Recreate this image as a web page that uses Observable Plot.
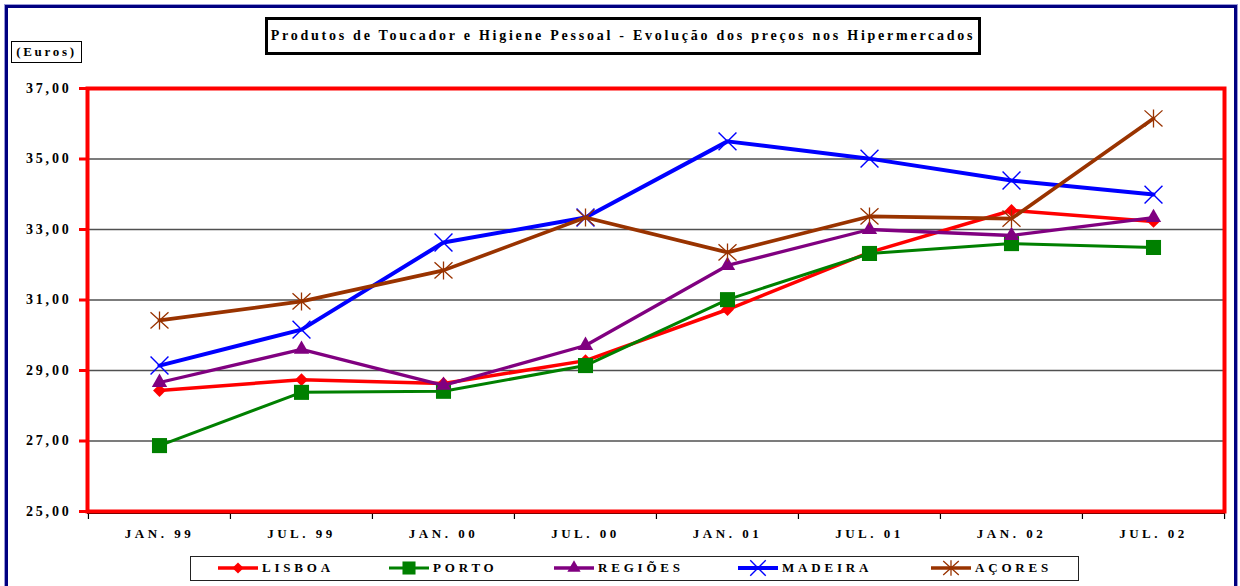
<!DOCTYPE html>
<html>
<head>
<meta charset="utf-8">
<script src="https://cdn.jsdelivr.net/npm/d3@7"></script>
<script src="https://cdn.jsdelivr.net/npm/@observablehq/plot@0.6"></script>
<style>
  html, body { margin: 0; padding: 0; background: #fff; }
  #wrap { position: relative; width: 1240px; height: 586px; overflow: hidden; background: #fff;
          font-family: "Liberation Serif", "Times New Roman", serif; font-weight: bold; }
  #outer { position: absolute; left: 5px; top: 5px; width: 1226px; height: 700px;
           border: 3px solid #000080; box-shadow: 0 0 0 1px #9a9ad8; }
  #chart { position: absolute; left: 0; top: 0; }
  #chart g[aria-label="y-axis tick label"] text { letter-spacing: 2.8px; }
  #chart g[aria-label="x-axis tick label"] text { letter-spacing: 3.5px; }
  #title { position: absolute; left: 265px; top: 17px; width: 716px; height: 38px; box-sizing: border-box;
           border: 3.5px solid #000; background: #fff; font-size: 14px; letter-spacing: 2.75px;
           display: flex; align-items: center; justify-content: center; white-space: nowrap; }
  #euros { position: absolute; left: 11px; top: 41px; width: 71px; height: 22px; box-sizing: border-box;
           border: 1.5px solid #000; background: #fff; font-size: 13px; letter-spacing: 2.7px;
           display: flex; align-items: center; justify-content: center; }
  #legend { position: absolute; left: 190px; top: 556px; width: 889px; height: 25px; box-sizing: border-box;
            border: 1.5px solid #222; background: #fff; }
  .li { position: absolute; top: 0; height: 22px; display: flex; align-items: center; }
  .li span { font-size: 13px; letter-spacing: 3.8px; margin-left: 4px; }
</style>
</head>
<body>
<div id="wrap">
  <div id="outer"></div>
  <div id="chart"></div>
  <div id="title">Produtos de Toucador e Higiene Pessoal - Evolução dos preços nos Hipermercados</div>
  <div id="euros">(Euros)</div>
  <div id="legend"></div>
</div>
<script>
// ---- data ----
const periods = ["JAN. 99", "JUL. 99", "JAN. 00", "JUL. 00", "JAN. 01", "JUL. 01", "JAN. 02", "JUL. 02"];
const seriesNames = ["LISBOA", "PORTO", "REGIÕES", "MADEIRA", "AÇORES"];
const lisboa  = [28.43, 28.74, 28.63, 29.28, 30.73, 32.35, 33.54, 33.23];
const porto   = [26.87, 28.38, 28.41, 29.14, 31.01, 32.32, 32.60, 32.49];
const regioes = [28.66, 29.60, 28.58, 29.71, 31.98, 33.00, 32.83, 33.34];
const madeira = [29.14, 30.16, 32.63, 33.34, 35.50, 35.01, 34.39, 33.99];
const acores  = [30.42, 30.96, 31.84, 33.34, 32.35, 33.37, 33.31, 36.15];
const yTicks = [25, 27, 29, 31, 33, 35, 37];
const gridLines = [27, 29, 31, 33, 35];

// Excel-like star marker: X plus vertical bar
const star = {
  draw(ctx, size) {
    const r = Math.sqrt(size / Math.PI);
    ctx.moveTo(-r, -r * 0.9); ctx.lineTo(r, r * 0.9);
    ctx.moveTo(-r, r * 0.9); ctx.lineTo(r, -r * 0.9);
    ctx.moveTo(0, -r); ctx.lineTo(0, r);
  }
};

const styles = [
  {color: "#ff0000", width: 3.5, symbol: d3.symbolDiamond2, r: 5.8, filled: true},
  {color: "#008000", width: 3.0, symbol: d3.symbolSquare, r: 8.5, filled: true},
  {color: "#800080", width: 3.3, symbol: d3.symbolTriangle, r: 5.7, filled: true},
  {color: "#0000ff", width: 4.0, symbol: d3.symbolTimes, r: 8.2, filled: false, sw: 1.4},
  {color: "#993300", width: 3.7, symbol: star, r: 9, filled: false, sw: 1.3}
];
const values = [lisboa, porto, regioes, madeira, acores];

const rows = seriesNames.flatMap((s, k) => periods.map((p, i) => ({series: s, period: p, value: values[k][i]})));

const W = 1240, H = 586, mL = 87, mR = 16, mT = 88, mB = 75;
const half = (W - mL - mR) / periods.length / 2;

const seriesMarks = seriesNames.flatMap((s, k) => {
  const st = styles[k];
  const f = d => d.series === s;
  return [
    Plot.line(rows, {filter: f, x: "period", y: "value", stroke: st.color, strokeWidth: st.width, strokeLinejoin: "round"}),
    Plot.dot(rows, st.filled
      ? {filter: f, x: "period", y: "value", symbol: () => st.symbol, r: st.r, fill: st.color, stroke: "none"}
      : {filter: f, x: "period", y: "value", symbol: () => st.symbol, r: st.r, fill: "none", stroke: st.color, strokeWidth: st.sw})
  ];
});

const chart = Plot.plot({
  width: W, height: H,
  marginLeft: mL, marginRight: mR, marginTop: mT, marginBottom: mB,
  style: {fontFamily: "'Liberation Serif', 'Times New Roman', serif", fontWeight: "bold", color: "#000", background: "transparent", overflow: "visible"},
  x: {type: "point", domain: periods, padding: 0.5, label: null},
  y: {domain: [25, 37], label: null},
  symbol: {type: "identity"},
  marks: [
    Plot.ruleY(gridLines, {stroke: "#505050", strokeWidth: 1.5}),
    Plot.ruleY([25], {stroke: "#000", strokeWidth: 1.2, dy: 2}),
    Plot.axisX({tickSize: 6, tickFormat: () => "", label: null, dx: -half, stroke: "#000", strokeWidth: 1.2, dy: 2}),
    Plot.axisX([periods[periods.length - 1]], {tickSize: 6, tickFormat: () => "", label: null, dx: half, stroke: "#000", strokeWidth: 1.2, dy: 2}),
    Plot.axisX({tickSize: 0, tickPadding: 17, fontSize: 13, fill: "#000", label: null}),
    Plot.axisY({ticks: yTicks, tickFormat: d => d.toFixed(2).replace(".", ","), tickSize: 8, tickPadding: 8, label: null,
                stroke: "#ff0000", strokeWidth: 3, fontSize: 14, fill: "#000"}),
    Plot.frame({stroke: "#ff0000", strokeWidth: 4}),
    ...seriesMarks
  ]
});
document.getElementById("chart").appendChild(chart);

// ---- legend ----
const legendX = [27, 198, 363, 547, 740]; // left offsets within legend box
const legend = d3.select("#legend");
seriesNames.forEach((s, k) => {
  const st = styles[k];
  const item = legend.append("div").attr("class", "li").style("left", legendX[k] + "px");
  const svg = item.append("svg").attr("width", 40).attr("height", 22);
  svg.append("line").attr("x1", 0).attr("x2", 40).attr("y1", 11).attr("y2", 11)
     .attr("stroke", st.color).attr("stroke-width", st.width).attr("stroke-linecap", "round");
  const p = svg.append("path").attr("transform", "translate(20,11)")
     .attr("d", d3.symbol(st.symbol, Math.PI * st.r * st.r * 0.75)());
  if (st.filled) p.attr("fill", st.color);
  else p.attr("fill", "none").attr("stroke", st.color).attr("stroke-width", st.sw);
  item.append("span").text(s);
});
</script>
</body>
</html>
